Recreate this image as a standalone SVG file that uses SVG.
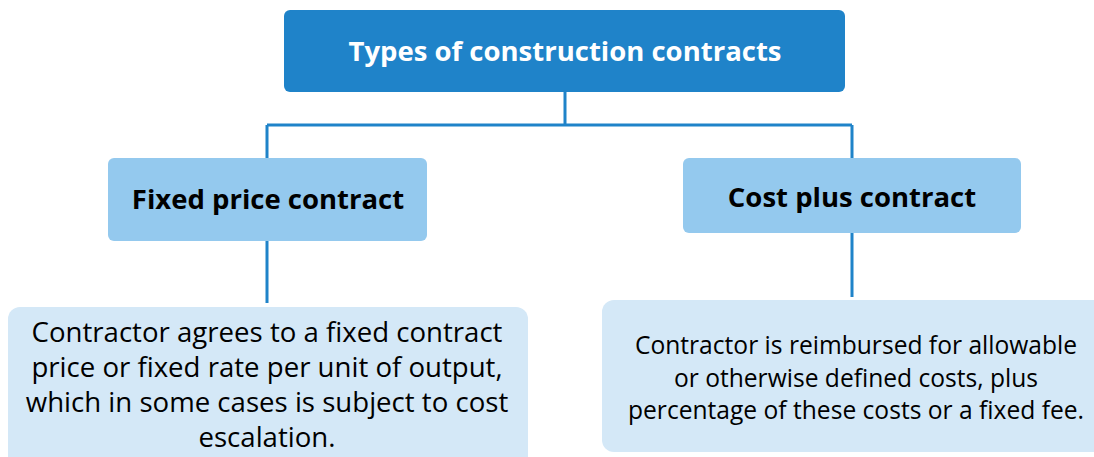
<svg xmlns="http://www.w3.org/2000/svg" width="1094" height="457" viewBox="0 0 1094 457">
<style>
.t{font-family:"Open Sans","Noto Sans",sans-serif;text-anchor:middle}
.b{font-weight:bold}
.c{fill:none;stroke:#1F83C9;stroke-width:3}
</style>
<rect width="1094" height="457" fill="#ffffff"/>
<g id="connectors">
<path class="c" d="M565 92V125M267 125H852M267 125V158M852 125V158M267 241V303M852 233V297"/>
</g>
<g id="root">
<rect x="284" y="10" width="561" height="82" rx="6" fill="#1F83C9"/>
<text class="t b" x="565" y="61" font-size="27.5" fill="#ffffff">Types of construction contracts</text>
</g>
<g id="fixed">
<rect x="108" y="158" width="319" height="83" rx="6" fill="#94C9EE"/>
<text class="t b" x="268" y="209" font-size="27.5" fill="#000000">Fixed price contract</text>
</g>
<g id="costplus">
<rect x="683" y="158" width="338" height="75" rx="6" fill="#94C9EE"/>
<text class="t b" x="852" y="207" font-size="27.5" fill="#000000">Cost plus contract</text>
</g>
<g id="fixed-desc">
<rect x="8" y="307" width="520" height="162" rx="12" fill="#D4E8F7"/>
<text class="t" font-size="27.6" fill="#000000"><tspan x="267" y="342">Contractor agrees to a fixed contract</tspan><tspan x="267" y="377">price or fixed rate per unit of output,</tspan><tspan x="267" y="412">which in some cases is subject to cost</tspan><tspan x="267" y="447">escalation.</tspan></text>
</g>
<g id="costplus-desc">
<rect x="602" y="300" width="510" height="152" rx="12" fill="#D4E8F7"/>
<text class="t" font-size="24.6" fill="#000000"><tspan x="856" y="354">Contractor is reimbursed for allowable</tspan><tspan x="856" y="387">or otherwise defined costs, plus</tspan><tspan x="856" y="419">percentage of these costs or a fixed fee.</tspan></text>
</g>
</svg>
